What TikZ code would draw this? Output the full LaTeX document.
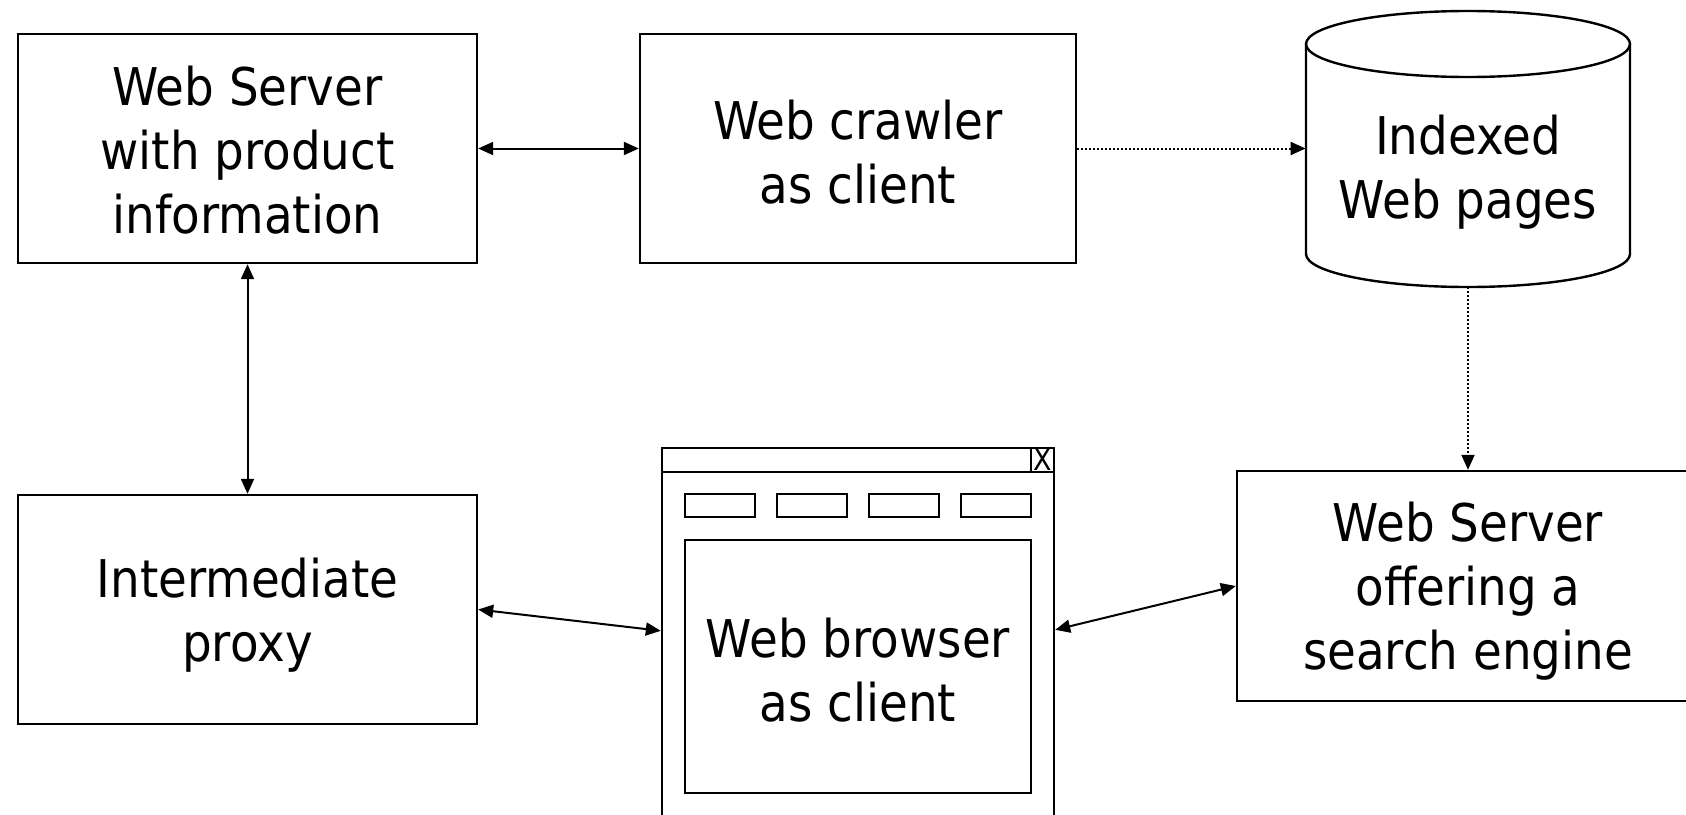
\documentclass[tikz,border=0pt]{standalone}
\usepackage{fontspec}
\setmainfont{DejaVu Sans}[FakeStretch=0.9]
\usetikzlibrary{arrows.meta,calc}

\begin{document}
\begin{tikzpicture}[x=0.5pt,y=-0.5pt,
  label text/.style={align=center, font=\fontsize{26}{32}\selectfont},
  box/.style={draw, line width=1.2pt, rectangle},
  frame/.style={draw, line width=1.2pt},
  tip/.tip={Triangle[length=7.5pt,width=6.5pt]},
  link/.style={line width=1pt, tip-tip},
  feed/.style={line width=1pt, dash pattern=on 1pt off 1pt, -tip},
]
\useasboundingbox (0,0) rectangle (1686,814);
\clip (0,0) rectangle (1686,814);

% servers, crawler and proxy
\node[box, minimum width=229.5pt, minimum height=114.5pt] (server) at (247.5,148.5) {};
\node[label text] (servertext) at (247.5,150) {Web Server\\with product\\information};
\node[box, minimum width=218pt, minimum height=114.5pt] (crawler) at (858,148.5) {};
\node[label text] (crawlertext) at (858,152) {Web crawler\\as client};
\node[box, minimum width=229.5pt, minimum height=114.5pt] (proxy) at (247.5,609.5) {};
\node[label text] (proxytext) at (247.5,615) {Intermediate\\proxy};
\node[box, minimum width=231pt, minimum height=115pt] (search) at (1468,586) {};
\node[label text] (searchtext) at (1468,591) {Web Server\\offering a\hspace*{0.33em}\\search engine};

% index store drawn as a cylinder
\node[minimum width=162pt, minimum height=138pt, inner sep=0pt] (store) at (1468,149) {};
\draw[frame] (1468,44) ellipse [x radius=81pt, y radius=16.5pt];
\draw[frame] (1306,44) -- (1306,254) arc [start angle=180, end angle=360, x radius=81pt, y radius=16.5pt] -- (1630,44);
\node[label text] (storetext) at (1468,172) {Indexed\\Web pages};

% browser window
\node[frame, minimum width=196pt, minimum height=191pt, inner sep=0pt] (browser) at (858,639) {};
\draw[frame] (662,472) -- (1054,472);
\node[frame, minimum width=11.5pt, minimum height=12pt, inner sep=0pt,
  font=\fontsize{15}{15}\selectfont] (close) at (1042.5,460) {X};
\foreach \x [count=\i] in {685,777,869,961}
  \draw[frame] (\x,494) rectangle ++(70,23);
\node[frame, minimum width=173pt, minimum height=126.5pt, inner sep=0pt] (page) at (858,666.5) {};
\node[label text] (pagetext) at (858,670) {Web browser\\as client};

% connectors
\coordinate (bleft) at ($(browser.north west)+(0,184)$);
\coordinate (bright) at ($(browser.north east)+(0,183)$);
\draw[link] (server.east) -- (crawler.west);
\draw[link] (server.south) -- (proxy.north);
\draw[link] (proxy.east) -- (bleft);
\draw[link] (bright) -- (search.west);
\draw[feed] (crawler.east) -- (store.west |- crawler.east);
\draw[feed] (store.south) -- (search.north);
\end{tikzpicture}
\end{document}
